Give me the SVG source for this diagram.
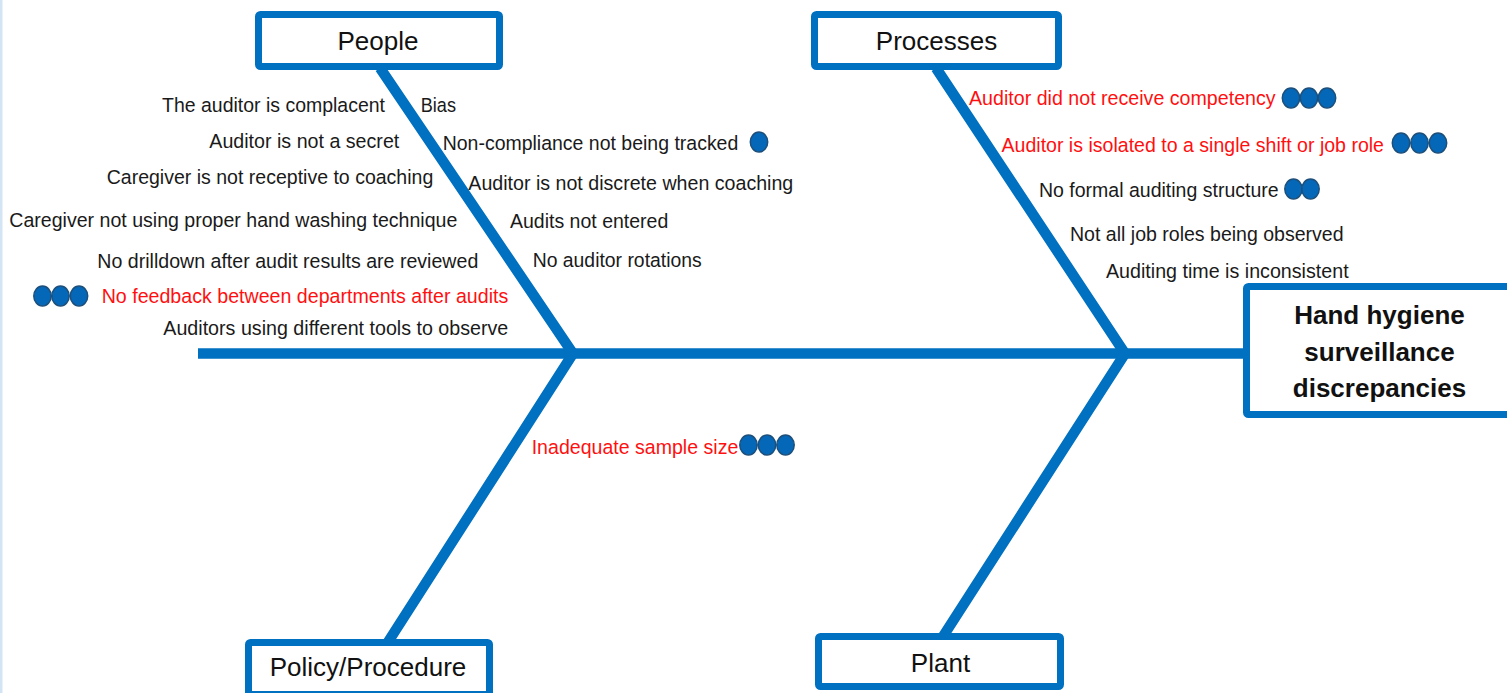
<svg xmlns="http://www.w3.org/2000/svg" width="1507" height="693" viewBox="0 0 1507 693">
  <style>
    .box { fill: #ffffff; stroke: #0070C0; stroke-width: 7; }
    .bone { stroke: #0070C0; stroke-width: 10.5; fill: none; stroke-linejoin: miter; }
    .t { font-family: "Liberation Sans", Arial, sans-serif; font-size: 20.5px; fill: #1a1a1a; }
    .r { fill: #ff1010; }
    .e { text-anchor: end; }
    .lbl { font-family: "Liberation Sans", Arial, sans-serif; font-size: 26px; fill: #111111; text-anchor: middle; }
    .head { font-family: "Liberation Sans", Arial, sans-serif; font-size: 26px; font-weight: bold; fill: #111111; text-anchor: middle; }
    .dot { fill: #0467B8; stroke: #1d4f7a; stroke-width: 1.5; }
  </style>
  <rect x="0" y="0" width="1507" height="693" fill="#ffffff"/>
  <rect x="0" y="0" width="2.5" height="693" fill="#d3e5f5"/>

  <g id="connectors">
    <line class="bone" x1="198" y1="353.5" x2="1250" y2="353.5"/>
    <polyline class="bone" points="380,68 573,353.5 388,642"/>
    <polyline class="bone" points="936,68 1125,353.5 942,638"/>
  </g>

  <g id="node-people">
    <rect class="box" x="258.5" y="14.5" width="241" height="52" rx="2"/>
    <text class="lbl" x="378" y="50">People</text>
  </g>
  <g id="node-processes">
    <rect class="box" x="814.5" y="14.5" width="244" height="52" rx="2"/>
    <text class="lbl" x="936.5" y="50">Processes</text>
  </g>
  <g id="node-policy">
    <rect class="box" x="248.5" y="642.5" width="241" height="52" rx="2"/>
    <text class="lbl" x="368" y="676">Policy/Procedure</text>
  </g>
  <g id="node-plant">
    <rect class="box" x="818.5" y="636.5" width="242" height="50" rx="2"/>
    <text class="lbl" x="940.5" y="672">Plant</text>
  </g>
  <g id="node-effect">
    <rect class="box" x="1246.5" y="286.5" width="275" height="128" rx="2"/>
    <text class="head" x="1379.5" y="324">Hand hygiene</text>
    <text class="head" x="1379.5" y="361">surveillance</text>
    <text class="head" x="1379.5" y="397">discrepancies</text>
  </g>

  <g id="people-causes">
    <text class="t e" x="385" y="111.5" textLength="223" lengthAdjust="spacingAndGlyphs">The auditor is complacent</text>
    <text class="t e" x="399.3" y="148" textLength="190" lengthAdjust="spacingAndGlyphs">Auditor is not a secret</text>
    <text class="t e" x="433.3" y="183.5" textLength="326.6" lengthAdjust="spacingAndGlyphs">Caregiver is not receptive to coaching</text>
    <text class="t e" x="457.3" y="226.5" textLength="448" lengthAdjust="spacingAndGlyphs">Caregiver not using proper hand washing technique</text>
    <text class="t e" x="478.3" y="268" textLength="381" lengthAdjust="spacingAndGlyphs">No drilldown after audit results are reviewed</text>
    <text class="t r e" x="508.3" y="303" textLength="406.6" lengthAdjust="spacingAndGlyphs">No feedback between departments after audits</text>
    <ellipse class="dot" cx="42.5" cy="296" rx="8.7" ry="10"/>
    <ellipse class="dot" cx="60.5" cy="296" rx="8.7" ry="10"/>
    <ellipse class="dot" cx="79" cy="296" rx="8.7" ry="10"/>
    <text class="t e" x="508.3" y="335" textLength="345" lengthAdjust="spacingAndGlyphs">Auditors using different tools to observe</text>

    <text class="t" x="420.7" y="111.5" textLength="35.3" lengthAdjust="spacingAndGlyphs">Bias</text>
    <text class="t" x="442.7" y="150" textLength="295.6" lengthAdjust="spacingAndGlyphs">Non-compliance not being tracked</text>
    <ellipse class="dot" cx="759" cy="142" rx="8.7" ry="10"/>
    <text class="t" x="468.3" y="190" textLength="325" lengthAdjust="spacingAndGlyphs">Auditor is not discrete when coaching</text>
    <text class="t" x="510" y="228" textLength="158.3" lengthAdjust="spacingAndGlyphs">Audits not entered</text>
    <text class="t" x="532.7" y="266.5" textLength="169" lengthAdjust="spacingAndGlyphs">No auditor rotations</text>
  </g>

  <g id="process-causes">
    <text class="t r" x="969" y="105" textLength="306.6" lengthAdjust="spacingAndGlyphs">Auditor did not receive competency</text>
    <ellipse class="dot" cx="1291" cy="98" rx="8.7" ry="10"/>
    <ellipse class="dot" cx="1309" cy="98" rx="8.7" ry="10"/>
    <ellipse class="dot" cx="1327" cy="98" rx="8.7" ry="10"/>
    <text class="t r" x="1001.5" y="151.5" textLength="382.5" lengthAdjust="spacingAndGlyphs">Auditor is isolated to a single shift or job role</text>
    <ellipse class="dot" cx="1401" cy="143" rx="8.7" ry="10"/>
    <ellipse class="dot" cx="1419.5" cy="143" rx="8.7" ry="10"/>
    <ellipse class="dot" cx="1438" cy="143" rx="8.7" ry="10"/>
    <text class="t" x="1039" y="196.5" textLength="239.6" lengthAdjust="spacingAndGlyphs">No formal auditing structure</text>
    <ellipse class="dot" cx="1293.5" cy="189" rx="8.7" ry="10"/>
    <ellipse class="dot" cx="1310.5" cy="189" rx="8.7" ry="10"/>
    <text class="t" x="1070" y="241" textLength="273.6" lengthAdjust="spacingAndGlyphs">Not all job roles being observed</text>
    <text class="t" x="1106" y="278" textLength="242.6" lengthAdjust="spacingAndGlyphs">Auditing time is inconsistent</text>
  </g>

  <g id="policy-causes">
    <text class="t r" x="531.7" y="454" textLength="206.6" lengthAdjust="spacingAndGlyphs">Inadequate sample size</text>
    <ellipse class="dot" cx="748.5" cy="445" rx="8.7" ry="10"/>
    <ellipse class="dot" cx="767" cy="445" rx="8.7" ry="10"/>
    <ellipse class="dot" cx="785.5" cy="445" rx="8.7" ry="10"/>
  </g>
</svg>
